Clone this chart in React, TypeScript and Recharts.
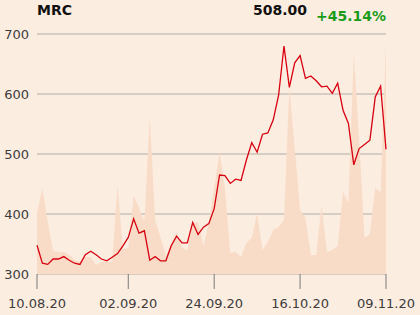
import React from "react";
import { ComposedChart, Line, Area, XAxis, YAxis, CartesianGrid } from "recharts";

// daily closes, 10.08.20 – 09.11.20 (one per trading day)
const prices = [
  348, 318, 316, 325, 325, 329, 323, 318, 316, 332, 338, 332, 325,
  322, 328, 334, 347, 361, 392, 368, 372, 323, 329, 322, 322, 347,
  363, 352, 352, 386, 366, 378, 384, 409, 465, 464, 451, 458, 456,
  490, 519, 503, 533, 535, 557, 598, 680, 611, 652, 664, 626, 630,
  622, 612, 613, 601, 618, 573, 551, 482, 509, 516, 523, 595, 613, 508,
];

// traded volume (relative)
const volumes = [
  61, 86, 52, 23, 22, 22, 19, 14, 12, 17, 17, 9, 12,
  12, 12, 89, 25, 26, 78, 66, 52, 159, 54, 37, 18, 31,
  42, 26, 24, 51, 52, 28, 51, 86, 122, 85, 21, 22, 17,
  31, 36, 61, 24, 32, 44, 47, 54, 187, 126, 64, 56, 19,
  19, 69, 22, 24, 28, 82, 71, 221, 135, 36, 40, 86, 82, 232,
];

const tickIdx = [0, 17, 33, 49, 65];
const tickLabels = ["10.08.20", "02.09.20", "24.09.20", "16.10.20", "09.11.20"];
const priceTicks = [300, 400, 500, 600, 700];

const data = prices.map((p, i) => ({ i, price: p, vol: volumes[i] }));

const FONT = "'DejaVu Sans', sans-serif";

export default function App() {
  return (
    <div
      style={{
        position: "absolute",
        left: 0,
        top: 0,
        width: 420,
        height: 315,
        background: "#fcede1",
        fontFamily: FONT,
        overflow: "hidden",
      }}
    >
      <div style={{ position: "absolute", left: 37, top: 3, fontSize: 14, lineHeight: "14px", fontWeight: "bold", color: "#111" }}>
        MRC
      </div>
      <div style={{ position: "absolute", right: 113, top: 3, fontSize: 14, lineHeight: "14px", fontWeight: "bold", color: "#111" }}>
        508.00
      </div>
      <div style={{ position: "absolute", left: 316, top: 9, fontSize: 14, lineHeight: "14px", fontWeight: "bold", color: "#1a9c1a" }}>
        +45.14%
      </div>
      <ComposedChart
        width={420}
        height={315}
        data={data}
        margin={{ top: 34, right: 34, bottom: 11, left: 0 }}
      >
        <XAxis
          dataKey="i"
          type="number"
          domain={[0, 65]}
          ticks={tickIdx}
          tickFormatter={(v: number) => tickLabels[tickIdx.indexOf(v)] ?? ""}
          axisLine={false}
          tickSize={15}
          tickMargin={10}
          tickLine={{ stroke: "#7a7a7a" }}
          tick={{ fill: "#3c3c3c", fontSize: 13, fontFamily: FONT }}
          height={30}
          interval={0}
        />
        <YAxis
          yAxisId="price"
          domain={[300, 700]}
          ticks={priceTicks}
          axisLine={false}
          tickLine={false}
          tickSize={0}
          tickMargin={8}
          width={37}
          tick={{ fill: "#3c3c3c", fontSize: 13, fontFamily: FONT }}
        />
        <YAxis yAxisId="vol" domain={[0, 240]} hide />
        <Area
          yAxisId="vol"
          dataKey="vol"
          type="linear"
          stroke="none"
          fill="#f8dcc7"
          fillOpacity={1}
          isAnimationActive={false}
        />
        <CartesianGrid yAxisId="price" vertical={false} stroke="#b0aca8" />
        <Line
          yAxisId="price"
          dataKey="price"
          type="linear"
          stroke="#d7000f"
          strokeWidth={1.3}
          dot={false}
          isAnimationActive={false}
        />
      </ComposedChart>
    </div>
  );
}
